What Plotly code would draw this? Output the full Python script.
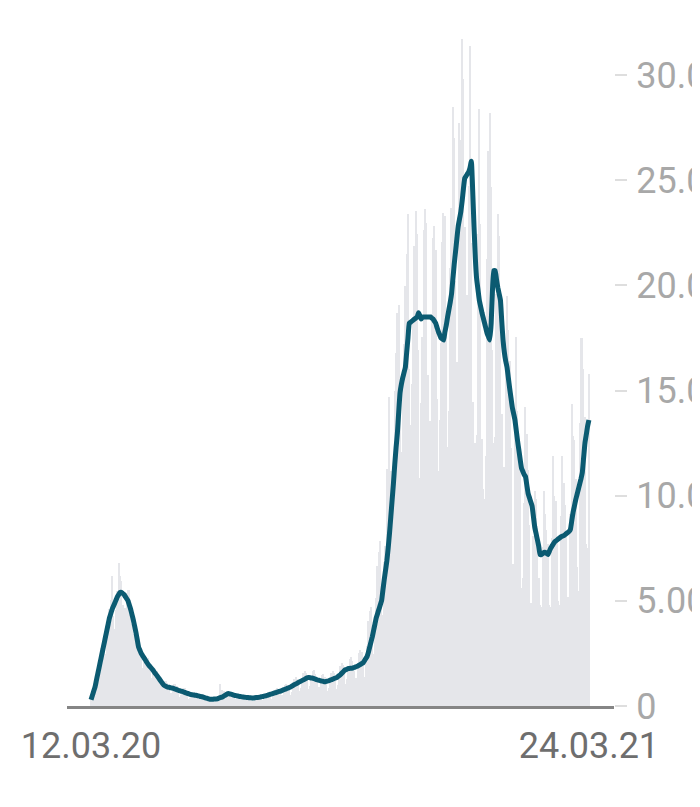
import plotly.graph_objects as go
import pandas as pd

start_date = "2020-03-12"
end_date = "2021-03-24"
dates = pd.date_range(start_date, end_date, freq="D")

# daily reported new cases
daily_cases = [
    330, 580, 770, 810, 900, 1350, 1890,
    2310, 2760, 2970, 2700, 2480, 3240, 4100,
    4620, 5060, 6200, 4280, 3680, 4550, 5460,
    6800, 6200, 5940, 4820, 3980, 4680, 5360,
    5500, 5520, 5060, 3920, 3080, 3420, 3680,
    3470, 3220, 2920, 2250, 1800, 2070, 2310,
    2310, 2300, 2110, 1670, 1340, 1530, 1680,
    1670, 1660, 1490, 1130, 880, 970, 1050,
    1200, 1210, 1080, 800, 520, 620, 880,
    1030, 1040, 940, 680, 440, 510, 710,
    840, 850, 740, 540, 350, 400, 560,
    660, 680, 610, 450, 290, 340, 460,
    550, 550, 480, 340, 220, 240, 330,
    400, 420, 400, 300, 200, 250, 390,
    1050, 770, 600, 690, 540, 500, 590,
    630, 680, 650, 470, 300, 350, 490,
    580, 590, 530, 390, 250, 300, 410,
    500, 510, 470, 340, 230, 280, 410,
    500, 530, 500, 400, 270, 340, 490,
    630, 680, 650, 500, 350, 430, 640,
    800, 860, 820, 630, 430, 540, 800,
    1000, 1070, 1020, 790, 540, 680, 1010,
    1280, 1370, 1300, 1010, 690, 850, 1260,
    1560, 1660, 1580, 1220, 810, 960, 1370,
    1650, 1690, 1540, 1130, 740, 880, 1240,
    1480, 1520, 1380, 1050, 710, 860, 1270,
    1560, 1660, 1560, 1200, 810, 1010, 1490,
    1880, 2040, 1960, 1530, 1040, 1270, 1830,
    2240, 2340, 2160, 1650, 1110, 1350, 1960,
    2500, 2670, 2560, 2280, 1380, 2090, 2830,
    4060, 4520, 4720, 3480, 2470, 4120, 5130,
    6640, 7330, 7830, 5590, 4330, 6870, 7600,
    11290, 11240, 14710, 11180, 8690, 11410, 14960,
    16770, 18680, 19060, 14180, 12100, 15350, 17210,
    19990, 21510, 23400, 16020, 13360, 15330, 18490,
    21870, 23540, 22460, 16950, 10820, 14420, 17560,
    22610, 23650, 22960, 15740, 10860, 13550, 18630,
    22270, 22810, 21700, 14610, 11170, 13600, 17270,
    22050, 23450, 23320, 17770, 12330, 14050, 20820,
    23680, 28500, 27000, 20200, 16360, 14430, 27730,
    26920, 31700, 29800, 22770, 16640, 19530, 24740,
    31400, 22000, 14450, 12000, 12500, 12890, 22460,
    28400, 22920, 12690, 10320, 9850, 11900, 21240,
    26390, 28200, 24690, 16950, 12500, 12800, 19600,
    23400, 22370, 18680, 13880, 7140, 11370, 15970,
    19500, 17860, 16420, 12260, 6410, 6730, 13200,
    17550, 14020, 12320, 11190, 5610, 6110, 9660,
    14210, 12910, 11200, 8620, 4900, 4700, 8070,
    10240, 9860, 8540, 6110, 4800, 4700, 7560,
    10210, 9110, 8350, 7680, 4800, 4700, 8010,
    11870, 9990, 9760, 7890, 5000, 4800, 9020,
    11910, 10580, 9560, 8100, 5200, 5000, 9150,
    14360, 12830, 12670, 10790, 6600, 5480, 13440,
    17500, 17480, 16030, 13730, 7710, 7490, 15810,
]

# 7-day average in thousands
avg7_thousands = [
    0.30, 0.50, 0.70, 0.90, 1.20, 1.50, 1.80,
    2.10, 2.40, 2.70, 3.00, 3.30, 3.60, 3.90,
    4.20, 4.40, 4.60, 4.75, 4.90, 5.05, 5.20,
    5.30, 5.40, 5.40, 5.35, 5.30, 5.20, 5.10,
    5.00, 4.80, 4.60, 4.35, 4.10, 3.80, 3.50,
    3.15, 2.80, 2.65, 2.50, 2.40, 2.30, 2.20,
    2.10, 2.00, 1.92, 1.85, 1.78, 1.70, 1.60,
    1.52, 1.44, 1.35, 1.26, 1.17, 1.08, 1.00,
    0.96, 0.93, 0.90, 0.89, 0.87, 0.86, 0.85,
    0.82, 0.80, 0.78, 0.75, 0.73, 0.71, 0.69,
    0.67, 0.65, 0.62, 0.60, 0.58, 0.55, 0.54,
    0.53, 0.52, 0.51, 0.50, 0.48, 0.47, 0.45,
    0.44, 0.42, 0.40, 0.38, 0.36, 0.34, 0.32,
    0.32, 0.32, 0.33, 0.33, 0.33, 0.35, 0.38,
    0.40, 0.42, 0.45, 0.49, 0.53, 0.57, 0.60,
    0.58, 0.56, 0.54, 0.52, 0.50, 0.49, 0.48,
    0.46, 0.45, 0.44, 0.43, 0.42, 0.41, 0.40,
    0.40, 0.39, 0.39, 0.38, 0.38, 0.39, 0.40,
    0.40, 0.41, 0.42, 0.44, 0.45, 0.47, 0.48,
    0.50, 0.52, 0.54, 0.56, 0.58, 0.60, 0.62,
    0.64, 0.66, 0.68, 0.70, 0.72, 0.75, 0.78,
    0.80, 0.82, 0.85, 0.88, 0.90, 0.94, 0.98,
    1.02, 1.05, 1.08, 1.12, 1.15, 1.18, 1.22,
    1.25, 1.28, 1.32, 1.35, 1.35, 1.34, 1.33,
    1.32, 1.30, 1.28, 1.25, 1.23, 1.22, 1.20,
    1.18, 1.17, 1.15, 1.17, 1.18, 1.20, 1.23,
    1.25, 1.28, 1.30, 1.33, 1.35, 1.40, 1.45,
    1.50, 1.57, 1.63, 1.70, 1.73, 1.76, 1.78,
    1.79, 1.80, 1.80, 1.83, 1.85, 1.88, 1.90,
    1.94, 1.98, 2.02, 2.05, 2.15, 2.25, 2.35,
    2.55, 2.80, 3.05, 3.30, 3.60, 3.90, 4.20,
    4.40, 4.60, 4.80, 5.00, 5.50, 6.00, 6.45,
    6.90, 7.50, 8.20, 9.00, 9.80, 10.60, 11.50,
    12.30, 13.00, 14.00, 14.90, 15.30, 15.60, 15.85,
    16.10, 16.80, 17.50, 18.20, 18.25, 18.30, 18.35,
    18.40, 18.45, 18.50, 18.70, 18.55, 18.40, 18.50,
    18.50, 18.50, 18.50, 18.50, 18.50, 18.50, 18.45,
    18.40, 18.30, 18.20, 18.00, 17.80, 17.65, 17.50,
    17.45, 17.40, 17.80, 18.10, 18.50, 18.85, 19.20,
    19.60, 20.30, 21.00, 21.60, 22.20, 22.80, 23.15,
    23.50, 24.00, 24.60, 25.10, 25.20, 25.30, 25.40,
    25.60, 25.90, 24.50, 22.80, 21.30, 20.30, 19.80,
    19.30, 19.00, 18.70, 18.45, 18.20, 17.95, 17.70,
    17.55, 17.40, 18.20, 19.80, 20.70, 20.70, 20.30,
    19.90, 19.60, 19.30, 18.30, 17.40, 16.80, 16.40,
    16.10, 15.60, 15.10, 14.65, 14.20, 13.90, 13.60,
    13.10, 12.60, 12.15, 11.70, 11.30, 11.15, 11.00,
    10.90, 10.50, 10.10, 9.90, 9.70, 9.50, 9.00,
    8.50, 8.20, 7.90, 7.60, 7.20, 7.20, 7.25,
    7.30, 7.30, 7.25, 7.20, 7.35, 7.50, 7.60,
    7.70, 7.80, 7.85, 7.90, 7.95, 8.00, 8.05,
    8.08, 8.10, 8.15, 8.20, 8.25, 8.30, 8.40,
    8.80, 9.20, 9.50, 9.80, 10.05, 10.30, 10.55,
    10.80, 11.10, 11.80, 12.50, 12.90, 13.30, 13.60,
]
avg7 = [v * 1000 for v in avg7_thousands]

y_tick_values = [0, 5000, 10000, 15000, 20000, 25000, 30000]
y_tick_labels = ["0", "5.000", "10.000", "15.000", "20.000", "25.000", "30.000"]
x_tick_dates = ["2020-03-12", "2021-03-24"]
x_tick_labels = ["12.03.20", "24.03.21"]

t0 = pd.Timestamp(start_date)
x_lo = (t0 - pd.Timedelta(hours=18.2 * 24)).strftime("%Y-%m-%d %H:%M")
x_hi = (t0 + pd.Timedelta(hours=396 * 24)).strftime("%Y-%m-%d %H:%M")

fig = go.Figure()
fig.add_trace(go.Bar(
    x=dates, y=daily_cases,
    marker=dict(color="#e5e6ea", line=dict(width=0)),
    hoverinfo="skip",
))
fig.add_trace(go.Scatter(
    x=dates, y=avg7, mode="lines",
    line=dict(color="#0b5a71", width=5, shape="spline", smoothing=0.4),
))

fig.update_layout(
    width=700, height=807,
    margin=dict(l=59, r=94, t=25, b=109, autoexpand=False),
    plot_bgcolor="white", paper_bgcolor="white",
    showlegend=False, bargap=0,
    xaxis=dict(
        type="date", range=[x_lo, x_hi], automargin=False,
        tickvals=x_tick_dates, ticktext=x_tick_labels,
        showgrid=False, zeroline=False,
        showline=True, linecolor="#858585", linewidth=3,
        ticks="", ticklabelstandoff=6,
        tickfont=dict(family="Roboto", size=36, color="#6e6e6e"),
    ),
    yaxis=dict(
        side="right", range=[0, 32000], automargin=False,
        tickvals=y_tick_values, ticktext=y_tick_labels,
        showgrid=False, zeroline=False, showline=False,
        ticks="outside", ticklen=12, tickwidth=2, tickcolor="#dedede",
        ticklabelstandoff=2,
        tickfont=dict(family="Roboto", size=36, color="#a8a8a8"),
    ),
)

fig.write_html("out.html")
